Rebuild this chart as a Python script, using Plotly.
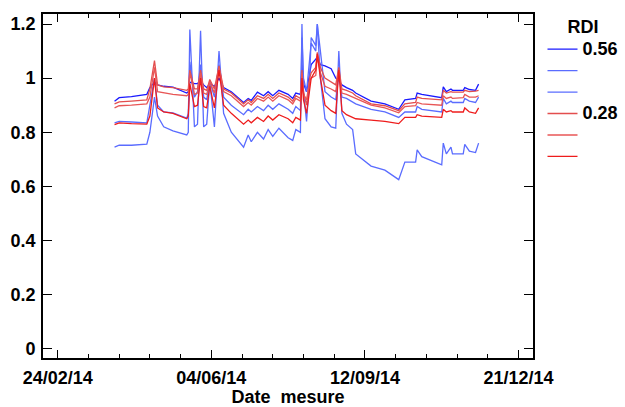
import plotly.graph_objects as go

dates = [
    "2014-04-02", "2014-04-05", "2014-04-13", "2014-04-23", "2014-04-25", "2014-04-28", "2014-04-30",
    "2014-05-04", "2014-05-10", "2014-05-19", "2014-05-20", "2014-05-21", "2014-05-24", "2014-05-26",
    "2014-05-28", "2014-05-30", "2014-06-01", "2014-06-03", "2014-06-06", "2014-06-09", "2014-06-12",
    "2014-06-17", "2014-06-25", "2014-06-28", "2014-06-30", "2014-07-04", "2014-07-08", "2014-07-11",
    "2014-07-14", "2014-07-18", "2014-07-24", "2014-07-27", "2014-07-29", "2014-08-01", "2014-08-02",
    "2014-08-03", "2014-08-05", "2014-08-07", "2014-08-08", "2014-08-11", "2014-08-12", "2014-08-14",
    "2014-08-17", "2014-08-21", "2014-08-24", "2014-08-26", "2014-08-28", "2014-08-31", "2014-09-04",
    "2014-09-06", "2014-09-16", "2014-09-25", "2014-10-04", "2014-10-08", "2014-10-15", "2014-10-16",
    "2014-10-19", "2014-11-01", "2014-11-02", "2014-11-04", "2014-11-07", "2014-11-08", "2014-11-15",
    "2014-11-16", "2014-11-19", "2014-11-23", "2014-11-25",
]

rdi_a = [0.915, 0.928, 0.932, 0.94, 0.965, 0.985, 0.975, 0.97, 0.967, 0.945, 0.95, 0.985, 0.98, 0.98,
         0.99, 0.975, 0.965, 0.98, 0.97, 1.0, 0.965, 0.95, 0.91, 0.925, 0.918, 0.948, 0.935, 0.95,
         0.935, 0.955, 0.94, 0.925, 0.945, 0.94, 1.05, 0.98, 0.95, 1.02, 1.05, 1.07, 1.08, 1.05,
         1.045, 1.035, 1.0, 0.99, 0.975, 0.965, 0.955, 0.945, 0.915, 0.905, 0.885, 0.92, 0.925, 0.945,
         0.94, 0.928, 0.968, 0.95, 0.96, 0.955, 0.955, 0.965, 0.958, 0.955, 0.978]

rdi_m = [0.835, 0.84, 0.838, 0.835, 0.9, 1.0, 0.9, 0.875, 0.872, 0.852, 0.87, 1.06, 0.93, 0.95,
         1.05, 0.93, 0.92, 0.99, 0.93, 1.05, 0.93, 0.9, 0.865, 0.885, 0.875, 0.895, 0.88, 0.9,
         0.885, 0.905, 0.885, 0.87, 0.895, 0.88, 1.15, 1.0, 0.95, 1.08, 1.13, 1.1, 1.2, 1.1,
         0.95, 0.93, 0.92, 1.02, 0.93, 0.925, 0.91, 0.905, 0.885, 0.875, 0.855, 0.875, 0.875, 0.895,
         0.885, 0.875, 0.925, 0.905, 0.915, 0.91, 0.91, 0.925, 0.915, 0.91, 0.93]

rdi_l = [0.745, 0.752, 0.752, 0.756, 0.8, 0.93, 0.86, 0.82, 0.805, 0.79, 0.8, 1.18, 0.82, 0.83,
         1.175, 0.82, 0.83, 0.99, 0.82, 1.1, 0.87, 0.8, 0.745, 0.79, 0.765, 0.8, 0.775, 0.81,
         0.785, 0.815, 0.78, 0.77, 0.81, 0.8, 1.2, 0.95, 0.84, 1.0, 1.15, 1.12, 1.2, 1.0,
         0.85, 0.82, 0.815, 1.1, 0.87, 0.83, 0.81, 0.72, 0.675, 0.66, 0.625, 0.69, 0.69, 0.735,
         0.71, 0.68, 0.76, 0.72, 0.745, 0.72, 0.72, 0.755, 0.73, 0.725, 0.76]

rdi_r1 = [0.905, 0.912, 0.915, 0.92, 0.96, 1.065, 0.975, 0.968, 0.965, 0.955, 0.96, 1.03, 0.96, 0.96,
          1.03, 0.96, 0.955, 0.995, 0.96, 1.045, 0.96, 0.945, 0.905, 0.92, 0.91, 0.935, 0.925, 0.94,
          0.925, 0.945, 0.93, 0.915, 0.935, 0.925, 1.03, 0.95, 0.9, 1.0, 1.02, 1.04, 1.095, 1.04,
          1.0, 0.985, 0.975, 1.04, 0.96, 0.955, 0.945, 0.935, 0.905, 0.898, 0.88, 0.905, 0.91, 0.93,
          0.925, 0.92, 0.955, 0.945, 0.95, 0.948, 0.948, 0.955, 0.95, 0.952, 0.955]

rdi_r2 = [0.89, 0.898, 0.9, 0.905, 0.93, 1.04, 0.95, 0.945, 0.94, 0.935, 0.94, 1.02, 0.94, 0.945,
          1.02, 0.945, 0.94, 0.985, 0.945, 1.04, 0.95, 0.935, 0.895, 0.91, 0.9, 0.925, 0.915, 0.93,
          0.915, 0.935, 0.92, 0.905, 0.925, 0.915, 1.02, 0.94, 0.92, 0.99, 1.0, 1.01, 1.08, 1.02,
          0.97, 0.96, 0.95, 1.03, 0.945, 0.94, 0.93, 0.925, 0.9, 0.89, 0.872, 0.895, 0.898, 0.91,
          0.905, 0.9, 0.935, 0.925, 0.93, 0.925, 0.928, 0.94, 0.93, 0.93, 0.935]

rdi_r3 = [0.828, 0.835, 0.832, 0.83, 0.86, 1.0, 0.89, 0.875, 0.87, 0.85, 0.86, 0.98, 0.895, 0.9,
          1.0, 0.895, 0.89, 0.97, 0.89, 1.03, 0.9, 0.87, 0.83, 0.845, 0.835, 0.855, 0.84, 0.86,
          0.845, 0.865, 0.85, 0.835, 0.855, 0.845, 1.0, 0.92, 0.87, 0.96, 1.0, 1.03, 1.09, 1.0,
          0.9, 0.88, 0.87, 1.03, 0.88, 0.865, 0.855, 0.85, 0.845, 0.84, 0.832, 0.855, 0.855, 0.865,
          0.86, 0.855, 0.885, 0.875, 0.88, 0.875, 0.875, 0.89, 0.875, 0.87, 0.89]

series = [rdi_a, rdi_m, rdi_l, rdi_r1, rdi_r2, rdi_r3]
legend_labels = ["0.56", " ", " ", "0.28", " ", " "]
colors = ["#1a1aff", "#5a6cff", "#5a6cff", "#e34e4e", "#e85656", "#ee1c1c"]

fig = go.Figure()
for vals, lab, col in zip(series, legend_labels, colors):
    fig.add_trace(go.Scatter(x=dates, y=vals, mode="lines",
                             name='<span style="font-size:18px">%s</span>' % lab,
                             line=dict(color=col, width=1.3)))

bold = dict(family="Liberation Sans", size=18, color="black", weight="bold")

fig.update_layout(
    width=625, height=407,
    margin=dict(l=43, r=92, t=14, b=49, autoexpand=False),
    plot_bgcolor="white", paper_bgcolor="white",
    font=bold,
    showlegend=True,
    legend=dict(xref="container", yref="container", x=0.868, y=0.9754,
                xanchor="left", yanchor="top",
                font=dict(family="Liberation Sans", size=14.2, color="black", weight="bold"),
                title=dict(text="RDI", side="top center",
                           font=dict(family="Liberation Sans", size=18, color="black", weight="bold")),
                bgcolor="rgba(0,0,0,0)", tracegroupgap=0, itemwidth=30),
    xaxis=dict(
        type="date", automargin=False,
        range=["2014-02-14 10:00", "2014-12-30 10:00"],
        tick0="2014-02-24", dtick=8640000000, tickformat="%d/%m/%y",
        ticks="inside", ticklen=8, tickwidth=1.4, tickcolor="black",
        showline=True, linecolor="black", linewidth=1.8, mirror="allticks",
        showgrid=False, zeroline=False,
        tickfont=bold, ticklabelstandoff=2,
        minor=dict(ticks="inside", tick0="2014-02-24", dtick=1728000000, ticklen=4,
                   tickcolor="black", tickwidth=1.2, showgrid=False),
        title=dict(text="Date\u00a0 mesure", font=bold, standoff=8),
    ),
    yaxis=dict(
        automargin=False,
        range=[-0.034, 1.237], tick0=0, dtick=0.2,
        ticks="inside", ticklen=9, tickwidth=1.4, tickcolor="black",
        showline=True, linecolor="black", linewidth=1.8, mirror="allticks",
        showgrid=False, zeroline=False,
        tickfont=bold, ticklabelstandoff=2,
    ),
)

fig.write_html("out.html")
